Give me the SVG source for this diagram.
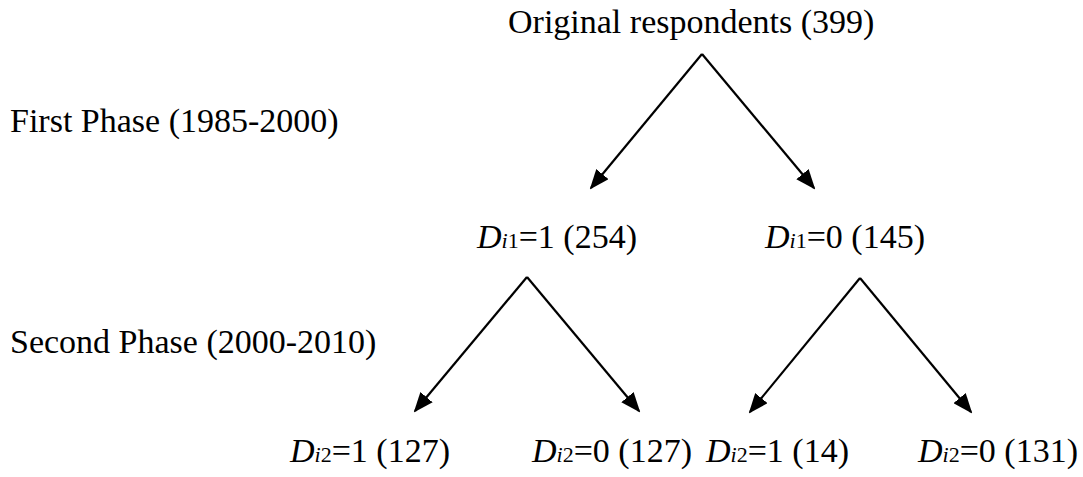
<svg xmlns="http://www.w3.org/2000/svg" width="1083" height="477" viewBox="0 0 1083 477">
<style>
text{font-family:"Liberation Serif","Times New Roman",serif;font-size:34px;fill:#000}
.it{font-style:italic}
.sub{font-size:22px}
.arr{stroke:#000;stroke-width:2.2;fill:none;marker-end:url(#ah)}
</style>
<defs>
<marker id="ah" markerUnits="userSpaceOnUse" markerWidth="20" markerHeight="16" refX="18" refY="8" orient="auto">
<path d="M0,0 L20,8 L0,16 z" fill="#000"/>
</marker>
</defs>
<rect width="1083" height="477" fill="#fff"/>
<g id="root"><text x="508" y="33">Original respondents (399)</text></g>
<g id="phase1"><text x="10" y="132">First Phase (1985-2000)</text></g>
<g id="phase2"><text x="10" y="353">Second Phase (2000-2010)</text></g>
<g id="d11"><text x="477" y="248"><tspan class="it">D</tspan><tspan class="it sub">i</tspan><tspan class="sub">1</tspan>=1 (254)</text></g>
<g id="d10"><text x="765" y="248"><tspan class="it">D</tspan><tspan class="it sub">i</tspan><tspan class="sub">1</tspan>=0 (145)</text></g>
<g id="d21a"><text x="290" y="462"><tspan class="it">D</tspan><tspan class="it sub">i</tspan><tspan class="sub">2</tspan>=1 (127)</text></g>
<g id="d20a"><text x="532" y="462"><tspan class="it">D</tspan><tspan class="it sub">i</tspan><tspan class="sub">2</tspan>=0 (127)</text></g>
<g id="d21b"><text x="706" y="462"><tspan class="it">D</tspan><tspan class="it sub">i</tspan><tspan class="sub">2</tspan>=1 (14)</text></g>
<g id="d20b"><text x="918" y="462"><tspan class="it">D</tspan><tspan class="it sub">i</tspan><tspan class="sub">2</tspan>=0 (131)</text></g>
<g id="connectors">
<path class="arr" d="M702,54 L591,188"/>
<path class="arr" d="M702,54 L814,188"/>
<path class="arr" d="M527,277 L415,411"/>
<path class="arr" d="M527,277 L639,411"/>
<path class="arr" d="M860,278 L750,412"/>
<path class="arr" d="M860,278 L971,412"/>
</g>
</svg>
